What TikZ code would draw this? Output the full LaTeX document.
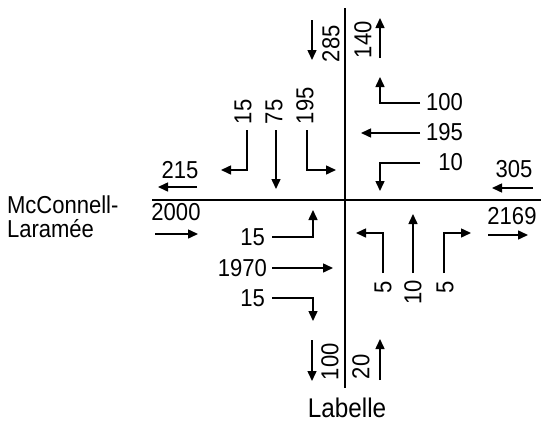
\documentclass[tikz,border=0pt]{standalone}
\usepackage{fontspec}
\setmainfont{Liberation Sans}[FakeStretch=0.9]
\usetikzlibrary{arrows.meta}
\begin{document}
\begin{tikzpicture}[x=1pt,y=-1pt,
  road/.style={draw=black,line width=2.5pt},
  move/.style={draw=black,line width=1.5pt,-{Triangle[length=10pt,width=9pt]}},
  vol/.style={inner sep=0pt,outer sep=0pt,font=\fontsize{24.5}{29}\selectfont},
  street/.style={inner sep=0pt,outer sep=0pt,font=\fontsize{24.5}{29}\selectfont}]
\path[use as bounding box] (0,0) rectangle (541,423);
\coordinate (roadN) at (345,8);
\coordinate (roadS) at (345,388);
\coordinate (roadW) at (152,200);
\coordinate (roadE) at (541,200);
\draw[road] (roadN) -- (roadS);
\draw[road] (roadW) -- (roadE);
\node[street,anchor=base west] (mcc) at (7,213) {McConnell-};
\node[street,anchor=base west] (lar) at (7,237) {Laramée};
\node[street,font=\fontsize{27}{32}\selectfont] (lab) at (347,408) {Labelle};
\node[vol] (wOut) at (180,170) {215};
\node[vol] (wIn) at (176,212) {2000};
\node[vol] (eOut) at (514,169) {305};
\node[vol] (eIn) at (512,216) {2169};
\node[vol,rotate=90,anchor=west] (nIn) at (331,62) {285};
\node[vol,rotate=90,anchor=west] (nOut) at (363,58) {140};
\node[vol,rotate=90,anchor=west] (sOut) at (330,380) {100};
\node[vol,rotate=90,anchor=west] (sIn) at (361,379) {20};
\node[vol,rotate=90,anchor=west] (sbR) at (243,124) {15};
\node[vol,rotate=90,anchor=west] (sbT) at (274,124) {75};
\node[vol,rotate=90,anchor=west] (sbL) at (305,124) {195};
\node[vol,anchor=east] (wbR) at (463,102) {100};
\node[vol,anchor=east] (wbT) at (463,132) {195};
\node[vol,anchor=east] (wbL) at (463,162) {10};
\node[vol,anchor=east] (ebL) at (265,237) {15};
\node[vol,anchor=east] (ebT) at (267,268) {1970};
\node[vol,anchor=east] (ebR) at (265,298) {15};
\node[vol,rotate=90,anchor=east] (nbL) at (383,281) {5};
\node[vol,rotate=90,anchor=east] (nbT) at (413,280) {10};
\node[vol,rotate=90,anchor=east] (nbR) at (445,281) {5};
\coordinate (wOutA) at (197,187);
\coordinate (wOutB) at (158,187);
\coordinate (wInA) at (155,234);
\coordinate (wInB) at (198,234);
\coordinate (eOutA) at (533,188);
\coordinate (eOutB) at (492,188);
\coordinate (eInA) at (488,235);
\coordinate (eInB) at (528,235);
\coordinate (nInA) at (312,20);
\coordinate (nInB) at (312,60);
\coordinate (nOutA) at (380,58);
\coordinate (nOutB) at (380,18);
\coordinate (sOutA) at (312,340);
\coordinate (sOutB) at (312,381);
\coordinate (sInA) at (380,380);
\coordinate (sInB) at (380,339);
\coordinate (sbRA) at (247,130);
\coordinate (sbRB) at (221,170);
\coordinate (sbTA) at (276,130);
\coordinate (sbTB) at (276,189);
\coordinate (sbLA) at (307,130);
\coordinate (sbLB) at (336,170);
\coordinate (wbRA) at (420,103);
\coordinate (wbRB) at (380,77);
\coordinate (wbTA) at (420,133);
\coordinate (wbTB) at (361,133);
\coordinate (wbLA) at (420,163);
\coordinate (wbLB) at (380,191);
\coordinate (ebLA) at (272,237);
\coordinate (ebLB) at (313,210);
\coordinate (ebTA) at (272,268);
\coordinate (ebTB) at (333,268);
\coordinate (ebRA) at (272,298);
\coordinate (ebRB) at (313,321);
\coordinate (nbLA) at (383,273);
\coordinate (nbLB) at (356,233);
\coordinate (nbTA) at (413,273);
\coordinate (nbTB) at (413,214);
\coordinate (nbRA) at (444,273);
\coordinate (nbRB) at (471,233);
\draw[move] (wOutA) -- (wOutB);
\draw[move] (wInA) -- (wInB);
\draw[move] (eOutA) -- (eOutB);
\draw[move] (eInA) -- (eInB);
\draw[move] (nInA) -- (nInB);
\draw[move] (nOutA) -- (nOutB);
\draw[move] (sOutA) -- (sOutB);
\draw[move] (sInA) -- (sInB);
\draw[move] (sbRA) |- (sbRB);
\draw[move] (sbTA) -- (sbTB);
\draw[move] (sbLA) |- (sbLB);
\draw[move] (wbRA) -| (wbRB);
\draw[move] (wbTA) -- (wbTB);
\draw[move] (wbLA) -| (wbLB);
\draw[move] (ebLA) -| (ebLB);
\draw[move] (ebTA) -- (ebTB);
\draw[move] (ebRA) -| (ebRB);
\draw[move] (nbLA) |- (nbLB);
\draw[move] (nbTA) -- (nbTB);
\draw[move] (nbRA) |- (nbRB);
\end{tikzpicture}
\end{document}
